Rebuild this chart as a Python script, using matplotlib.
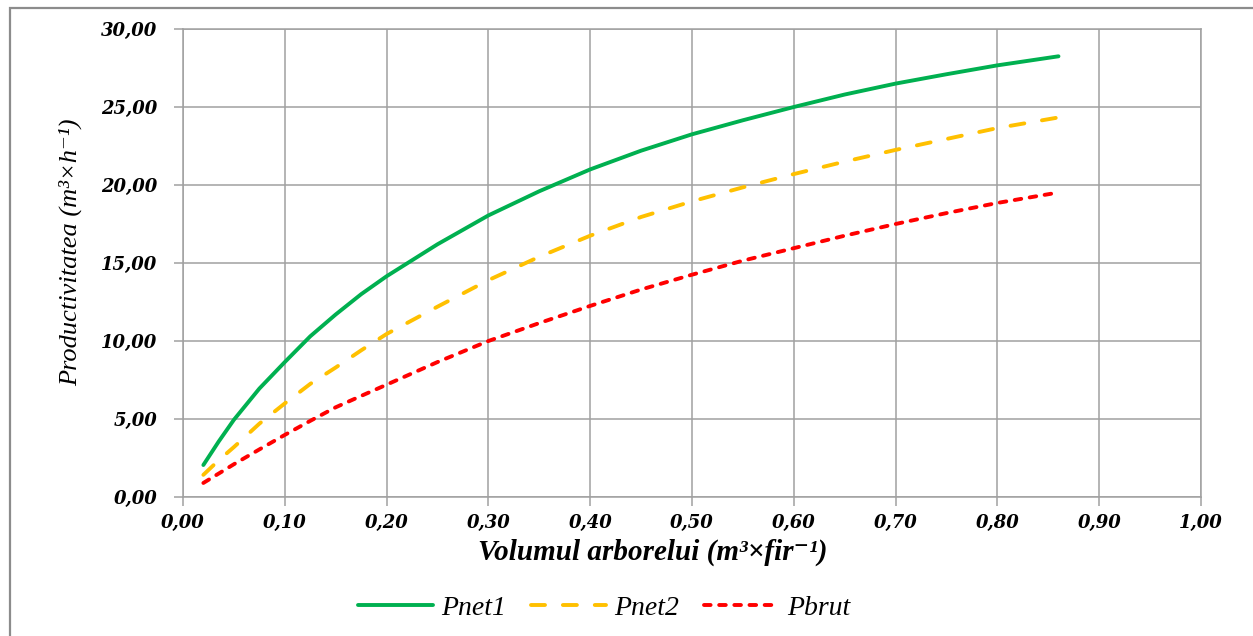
import matplotlib.pyplot as plt
import numpy as np
from matplotlib.ticker import FuncFormatter, MultipleLocator
from matplotlib.patches import Rectangle

# valori
volum = [0.02, 0.035, 0.05, 0.075, 0.10, 0.125, 0.15, 0.175, 0.20, 0.25, 0.30, 0.35, 0.40,
         0.45, 0.50, 0.55, 0.60, 0.65, 0.70, 0.75, 0.80, 0.86]
pnet1 = [2.05, 3.55, 4.95, 6.95, 8.65, 10.30, 11.70, 13.00, 14.15, 16.20, 18.05, 19.60, 21.00,
         22.20, 23.25, 24.15, 25.00, 25.80, 26.50, 27.10, 27.67, 28.25]
pnet2 = [1.42, 2.35, 3.20, 4.70, 6.00, 7.25, 8.30, 9.40, 10.45, 12.20, 13.90, 15.40, 16.75,
         17.95, 18.95, 19.85, 20.70, 21.50, 22.25, 22.95, 23.65, 24.33]
pbrut = [0.90, 1.50, 2.10, 3.05, 3.98, 4.88, 5.75, 6.48, 7.20, 8.65, 10.00, 11.15, 12.25,
         13.30, 14.25, 15.15, 15.95, 16.75, 17.50, 18.20, 18.85, 19.52]

W, H = 1253, 636
fig = plt.figure(figsize=(W / 100, H / 100), dpi=100)
ax = fig.add_axes([183 / W, 1 - 497 / H, (1201 - 183) / W, (497 - 29) / H])

# chenarul exterior al diagramei
fig.patches.append(Rectangle((10 / W, -0.1), 1.2, 1 - 8 / H + 0.1, transform=fig.transFigure,
                             fill=False, edgecolor='#8c8c8c', linewidth=1.6))

ax.plot(volum, pnet1, color='#00B050', lw=2.8, solid_capstyle='round', label='Pnet1')
ax.plot(volum, pnet2, color='#FFC000', lw=2.8, dashes=(3.6, 4.6), dash_capstyle='round', label='Pnet2')
ax.plot(volum, pbrut, color='#FF0000', lw=2.8, dashes=(1.7, 2.2), dash_capstyle='round', label='Pbrut')

ax.set_xlim(0, 1)
ax.set_ylim(0, 30)
ax.xaxis.set_major_locator(MultipleLocator(0.1))
ax.yaxis.set_major_locator(MultipleLocator(5))
fmt = FuncFormatter(lambda v, p: f'{v:.2f}'.replace('.', ','))
ax.xaxis.set_major_formatter(fmt)
ax.yaxis.set_major_formatter(fmt)
ax.grid(True, color='#a0a0a0', lw=1.1)
ax.set_axisbelow(True)
for s in ax.spines.values():
    s.set_color('#a0a0a0')
    s.set_linewidth(1.1)
ax.tick_params(direction='out', length=6.5, width=1.1, color='#a0a0a0')
ax.tick_params(axis='y', pad=12)
ax.tick_params(axis='x', pad=6)

for lab in ax.get_xticklabels() + ax.get_yticklabels():
    lab.set_fontfamily('DejaVu Serif')
    lab.set_fontweight('bold')
    lab.set_fontstyle('italic')
    lab.set_fontsize(13)

serif = ['Liberation Serif', 'DejaVu Serif']
fig.text(653 / W, 1 - 552 / H, 'Volumul arborelui (m³×fir⁻¹)', ha='center', va='center',
         family=serif, style='italic', weight='bold', size=21)
fig.text(70 / W, 1 - 252 / H, 'Productivitatea (m³×h⁻¹)', ha='center', va='center',
         rotation=90, family=serif, style='italic', size=19)

leg = fig.legend(loc='center', bbox_to_anchor=(604 / W, 1 - 608 / H), ncol=3, frameon=False,
                 handlelength=2.7, columnspacing=0.9, handletextpad=0.3,
                 prop=dict(family='Liberation Serif', style='italic', size=20))

fig.savefig('out.png', dpi=100)
